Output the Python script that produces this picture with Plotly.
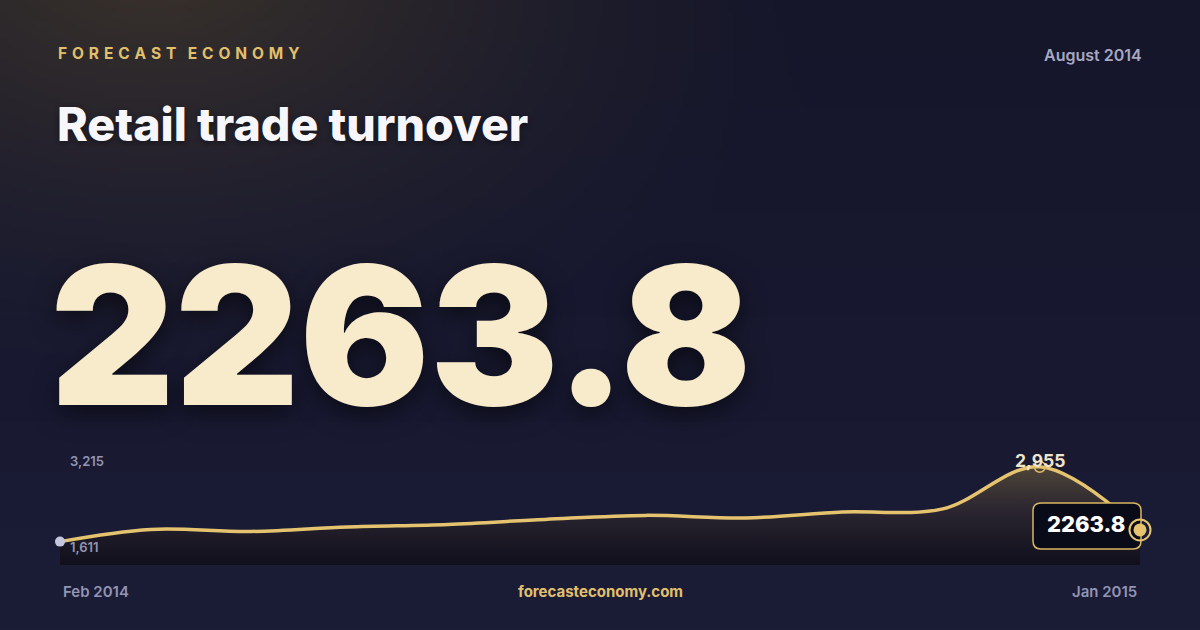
import base64
import struct
import zlib

import numpy as np
import pandas as pd
import plotly.graph_objects as go

# --- data -------------------------------------------------------------
months = ["2014-02-01", "2014-03-01", "2014-04-01", "2014-05-01", "2014-06-01", "2014-07-01",
          "2014-08-01", "2014-09-01", "2014-10-01", "2014-11-01", "2014-12-01", "2015-01-01"]
turnover = [2136, 2269, 2247, 2297, 2324, 2379, 2423, 2395, 2461, 2494, 2955, 2263.8]

brand = "FORECAST ECONOMY"
title = "Retail trade turnover"
period = "August 2014"
headline = "2263.8"
range_hi_label = "3,215"
range_lo_label = "1,611"
start_label = "Feb 2014"
end_label = "Jan 2015"
site = "forecasteconomy.com"

GOLD = "#e6c46f"
FONT = "Inter"

W, H = 1200, 630
# line runs from x=60 to x=1140; plot area padded by 20px so end markers are not clipped
PAD = 20
L, R, T, B = 60 - PAD, 60 - PAD, 443, 65
PW, PH = W - L - R, H - T - B


def px(x):
    return (x - L) / PW


def py(y):
    return (H - B - y) / PH


def spaced(text):
    # fake letter-spacing: plotly has no letter-spacing option
    return "\u2002 ".join(" \u200a".join(word) for word in text.split())


def png_uri(arr):
    h, w, _ = arr.shape
    raw = b"".join(b"\x00" + arr[i].tobytes() for i in range(h))

    def chunk(tag, data):
        c = struct.pack(">I", len(data)) + tag + data
        return c + struct.pack(">I", zlib.crc32(tag + data) & 0xffffffff)

    png = (b"\x89PNG\r\n\x1a\n"
           + chunk(b"IHDR", struct.pack(">IIBBBBB", w, h, 8, 2, 0, 0, 0))
           + chunk(b"IDAT", zlib.compress(raw, 9))
           + chunk(b"IEND", b""))
    return "data:image/png;base64," + base64.b64encode(png).decode()


# background: dark navy with a warm glow in the upper left
gw, gh = 240, 126
yy, xx = np.mgrid[0:gh, 0:gw].astype(float)
top = np.array([21, 22, 42], float)
bot = np.array([27, 28, 54], float)
t = (yy / (gh - 1))[..., None]
bg = top * (1 - t) + bot * t
d = np.sqrt(((xx - 30) / 140) ** 2 + ((yy + 8) / 85) ** 2)
glow = np.clip(1 - d, 0, 1) ** 1.5
bg = bg + glow[..., None] * np.array([38, 29, 1], float)
bg_img = png_uri(np.clip(bg, 0, 255).astype(np.uint8))

peak = int(np.argmax(turnover))
last = len(turnover) - 1

t0, t1 = pd.Timestamp(months[0]), pd.Timestamp(months[-1])
ext = (t1 - t0) * PAD / (PW - 2 * PAD)
x_range = [t0 - ext, t1 + ext]

fig = go.Figure()
fig.add_trace(go.Scatter(
    x=months, y=turnover, mode="lines",
    line=dict(color=GOLD, width=3.5, shape="spline", smoothing=1),
    fill="tozeroy",
    fillgradient=dict(type="vertical", start=1880, stop=2955,
                      colorscale=[[0, "#100f1c"], [0.55, "#2a2530"], [1, "#4d4438"]]),
    hoverinfo="skip",
))
fig.add_trace(go.Scatter(
    x=[months[0]], y=[turnover[0]], mode="markers",
    marker=dict(color="#c4c7dd", size=10), hoverinfo="skip",
))
fig.add_trace(go.Scatter(
    x=[months[peak]], y=[turnover[peak]], mode="markers",
    marker=dict(symbol="circle-open", color="#d8b663", size=11, line=dict(width=1.5)),
    hoverinfo="skip",
))

anchor = dict(xref="x", yref="y", xsizemode="pixel", ysizemode="pixel",
              xanchor=months[last], yanchor=turnover[last], layer="above")
shapes = [
    # value box next to the last point
    dict(type="path",
         path="M -99,27 L -7,27 Q 1,27 1,19 L 1,-11 Q 1,-19 -7,-19 L -99,-19 "
              "Q -107,-19 -107,-11 L -107,19 Q -107,27 -99,27 Z",
         fillcolor="#0a0b18", line=dict(color="#d9b662", width=1.5), **anchor),
    dict(type="circle", x0=-10.5, x1=10.5, y0=-10.5, y1=10.5,
         line=dict(color=GOLD, width=2), fillcolor="rgba(0,0,0,0)", **anchor),
    dict(type="circle", x0=-6.5, x1=6.5, y0=-6.5, y1=6.5,
         line=dict(width=0), fillcolor=GOLD, **anchor),
]

ann = [
    dict(text=spaced(brand), x=px(56), y=py(53), xanchor="left", yanchor="middle",
         font=dict(family=FONT, size=15.5, weight=700, color="#e2c06b")),
    dict(text=period, x=px(1144), y=py(54.5), xanchor="right", yanchor="middle",
         font=dict(family=FONT, size=16, weight=600, color="#a6a8c2")),
    dict(text=title, x=px(55), y=py(124), xanchor="left", yanchor="middle",
         font=dict(family=FONT, size=46.5, weight=800, color="#f7f7fb",
                   shadow="0 2px 6px rgba(0,0,0,0.45)")),
    dict(text=headline, x=px(48), y=py(335), xanchor="left", yanchor="middle",
         font=dict(family=FONT, size=193, weight=900, color="#f8ebcb",
                   shadow="0 8px 24px rgba(0,0,0,0.55)")),
    dict(text=range_hi_label, x=px(68), y=py(461), xanchor="left", yanchor="middle",
         font=dict(family=FONT, size=13, weight=600, color="#9395b4")),
    dict(text=range_lo_label, x=px(68), y=py(547), xanchor="left", yanchor="middle",
         font=dict(family=FONT, size=13, weight=600, color="#9395b4")),
    dict(text=start_label, x=px(60.5), y=py(591.5), xanchor="left", yanchor="middle",
         font=dict(family=FONT, size=15, weight=600, color="#9294b4")),
    dict(text=end_label, x=px(1139), y=py(591.5), xanchor="right", yanchor="middle",
         font=dict(family=FONT, size=15, weight=600, color="#9294b4")),
    dict(text=site, x=px(600), y=py(591.5), xanchor="center", yanchor="middle",
         font=dict(family=FONT, size=15, weight=700, color="#e2c06d")),
    dict(text=f"{turnover[peak]:,.0f}", x=months[peak], y=turnover[peak], xref="x", yref="y",
         xanchor="center", yanchor="middle", yshift=6,
         font=dict(family=FONT, size=17.5, weight=700, color="#eee5d0")),
    dict(text=headline, x=months[last], y=turnover[last], xref="x", yref="y",
         xanchor="center", yanchor="middle", xshift=-54, yshift=6,
         font=dict(family=FONT, size=22, weight=800, color="#ffffff")),
]
for a in ann:
    a.setdefault("xref", "paper")
    a.setdefault("yref", "paper")
    a["showarrow"] = False

fig.update_layout(
    width=W, height=H,
    margin=dict(l=L, r=R, t=T, b=B),
    paper_bgcolor="#171930",
    plot_bgcolor="rgba(0,0,0,0)",
    showlegend=False,
    xaxis=dict(range=x_range, visible=False, fixedrange=True),
    yaxis=dict(range=[1880, 3215], visible=False, fixedrange=True),
    images=[dict(source=bg_img, xref="paper", yref="paper", x=-L / PW, y=1 + T / PH,
                 sizex=W / PW, sizey=H / PH, sizing="stretch", layer="below", xanchor="left", yanchor="top")],
    shapes=shapes,
    annotations=ann,
)

fig.write_html("out.html", config={"displayModeBar": False},
               post_script="document.body.style.margin='0';document.body.style.background='#171930';")
